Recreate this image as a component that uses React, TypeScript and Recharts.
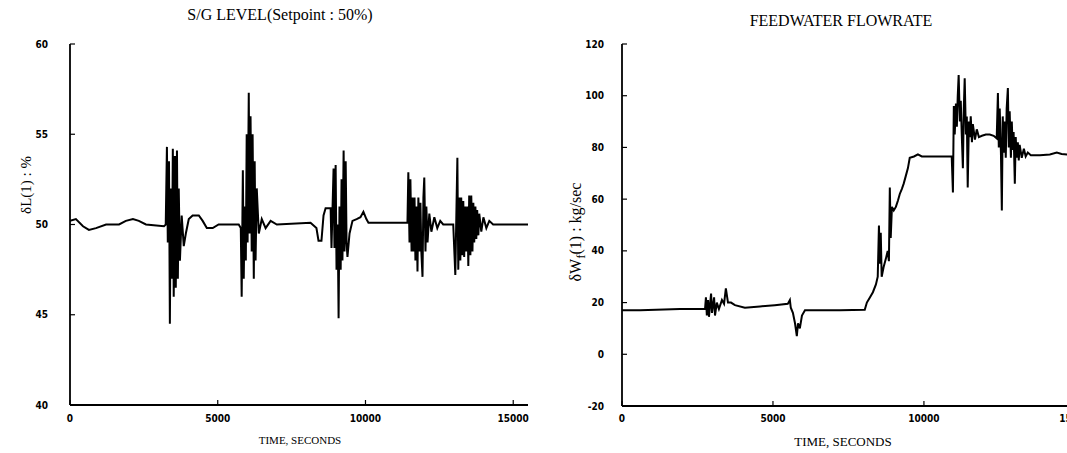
import React from "react";
import { LineChart, Line, XAxis, YAxis } from "recharts";

// ---- S/G level (left) ----
const levelTime = [
  0, 200, 440, 640, 880, 1220, 1660, 1890, 2130, 2330, 2570, 3180, 3240, 3280, 3310, 3350, 3380, 3410, 3450, 3480,
  3510, 3550, 3580, 3620, 3650, 3680, 3720, 3780, 3850, 3920, 4020, 4150, 4360, 4490, 4630, 4830, 5030, 5710, 5780,
  5810, 5850, 5880, 5910, 5950, 5980, 6010, 6050, 6080, 6110, 6150, 6180, 6220, 6250, 6280, 6320, 6390, 6490, 6620,
  6790, 7000, 8140, 8340, 8410, 8510, 8580, 8650, 8820, 8850, 8920, 8950, 8990, 9020, 9060, 9090, 9120, 9160, 9190,
  9220, 9260, 9290, 9330, 9360, 9390, 9460, 9560, 9700, 9830, 9930, 10030, 10100, 11420, 11450, 11490, 11520, 11560,
  11590, 11620, 11660, 11690, 11730, 11760, 11790, 11830, 11860, 11890, 11930, 11960, 11990, 12030, 12060, 12100,
  12160, 12230, 12330, 12430, 12530, 12630, 12970, 13040, 13080, 13110, 13140, 13180, 13210, 13240, 13280, 13310,
  13340, 13380, 13410, 13450, 13480, 13510, 13550, 13580, 13620, 13650, 13680, 13720, 13750, 13780, 13820, 13850,
  13920, 13990, 14090, 14190, 14320, 15500,
];
const levelValue = [
  50.2, 50.3, 49.9, 49.7, 49.8, 50.0, 50.0, 50.2, 50.3, 50.2, 50.0, 49.9, 50.0, 54.3, 49, 53.5, 44.5, 52, 47, 54.2,
  46, 53.8, 46.5, 54.1, 47, 52, 48, 50.5, 48.8, 49.5, 50.3, 50.5, 50.5, 50.2, 49.8, 49.8, 50.0, 50.0, 49.8,
  46, 53, 47, 51, 48, 55, 49, 57.3, 49.5, 56, 48.5, 55, 47, 53.5, 48, 52, 49.5, 50.3, 49.8,
  50.2, 50.0, 50.1, 49.8, 49.1, 49.1, 50.5, 50.9, 50.9, 48.7, 53.1, 48.7, 53.3, 47.5, 50, 44.8, 51, 47.5, 52.5,
  48, 54.1, 48.5, 53.5, 49, 48.2, 49.5, 50.2, 50.3, 50.4, 50.7, 50.3, 50.1, 50.1, 52.9, 49, 52.5, 48.5,
  51.5, 48.5, 51.5, 48, 51, 47.4, 51.5, 48.5, 51.2, 48.5, 47.1, 51.5, 52.6, 48.5, 51, 49,
  50.6, 49.6, 50.4, 49.8, 50.2, 50.0, 50.0, 47.2, 51, 53.7, 47.5, 51.5, 48, 51.5, 48.3, 51.3,
  48.2, 51, 48.5, 51, 47.7, 51.6, 48.3, 51.6, 48.5, 51.2, 49, 51, 49.2, 50.8, 49.4, 50.6,
  49.6, 50.4, 49.8, 50.2, 50.0, 50.0,
];
const levelTicks = [40, 45, 50, 55, 60];
const levelRightTicks = [45, 47.5, 50, 52.5, 55];

// ---- Feedwater flowrate (right) ----
const flowTime = [
  0, 600, 1920, 2580, 2750, 2780, 2810, 2850, 2880, 2950, 2980, 3050, 3080, 3140, 3210, 3310, 3380, 3440, 3510, 3610,
  3740, 4070, 4570, 5060, 5490, 5560, 5590, 5660, 5730, 5790, 5830, 5890, 5960, 6060, 6550, 7220, 8040, 8110, 8210,
  8310, 8410, 8470, 8510, 8540, 8570, 8600, 8670, 8740, 8800, 8840, 8870, 8900, 8940, 9000, 9070, 9140, 9200, 9270,
  9330, 9400, 9470, 9530, 9670, 9800, 9930, 10920, 10960, 10990, 11020, 11060, 11090, 11120, 11150, 11190, 11220,
  11250, 11290, 11320, 11350, 11390, 11420, 11450, 11490, 11520, 11550, 11590, 11620, 11690, 11750, 11820, 11920,
  12050, 12180, 12310, 12410, 12450, 12480, 12510, 12550, 12580, 12610, 12650, 12680, 12710, 12740, 12780, 12810,
  12840, 12880, 12910, 12940, 12970, 13010, 13040, 13070, 13110, 13140, 13170, 13240, 13310, 13370, 13440, 13540,
  13840, 14170, 14400, 14560, 15000, 15500,
];
const flowValue = [
  17, 17, 17.5, 17.5, 17.5, 22, 15, 21, 14.5, 23.5, 16, 22, 15, 20, 17.5, 21, 19.5, 25.5, 20, 20,
  19, 18, 18.5, 19, 19.5, 21, 18, 16, 12, 7, 12, 10, 15, 17, 17, 17, 17.2, 20, 22,
  24, 27, 30, 49.8, 35, 47, 30, 34, 37, 40, 36, 64.5, 45, 57, 55.6, 57, 59.5, 62, 64,
  66, 69, 72, 76, 76.5, 77.3, 76.5, 76.5, 62.6, 96, 85, 97, 88, 100, 108, 90, 98,
  86, 72, 95, 106.7, 85, 92, 64.5, 90, 84, 92, 82, 89, 83, 87, 84, 84.5,
  85, 85, 84.5, 83.5, 101, 80, 95, 78, 55.6, 92, 78, 90, 76, 95, 103, 80,
  94, 76, 90, 79, 86, 66, 84, 76, 82, 75, 81, 76, 79.5, 76.5, 78, 77,
  77, 77.3, 78, 77.5, 77, 77,
];
const flowTicks = [-20, 0, 20, 40, 60, 80, 100, 120];

const timeTicks = [0, 5000, 10000, 15000];
const timeInnerTicks = [5000, 10000];

const levelData = levelTime.map((t, i) => ({ t, v: levelValue[i] }));
const flowData = flowTime.map((t, i) => ({ t, v: flowValue[i] }));

const tickFont = {
  fontFamily: "'Liberation Sans Narrow', 'DejaVu Sans Condensed', sans-serif",
  fontWeight: 700,
  fontSize: 10,
  fill: "#000",
};
const serif = "'Liberation Serif', 'DejaVu Serif', serif";
const axisLine = { stroke: "#000", strokeWidth: 1.8 };
const tickLine = { stroke: "#000", strokeWidth: 1.2 };

export default function App() {
  return (
    <div style={{ position: "absolute", left: 0, top: 0, width: 1067, height: 453, overflow: "hidden", background: "#fff" }}>
      {/* Left chart: plot 70..528 x 44..405 */}
      <div style={{ position: "absolute", left: 0, top: 0 }}>
        <LineChart width={560} height={453} data={levelData} margin={{ top: 44, right: 32, bottom: 18, left: 30 }}>
          <XAxis
            xAxisId="b"
            dataKey="t"
            type="number"
            domain={[0, 15500]}
            ticks={timeTicks}
            allowDataOverflow
            height={30}
            axisLine={axisLine}
            tickLine={tickLine}
            tickSize={-5}
            tickMargin={15}
            tick={tickFont}
            interval={0}
          />
          <XAxis
            xAxisId="top"
            orientation="top"
            dataKey="t"
            type="number"
            domain={[0, 15500]}
            ticks={timeInnerTicks}
            allowDataOverflow
            height={0}
            axisLine={axisLine}
            tickLine={tickLine}
            tickSize={-5}
            tick={false}
          />
          <YAxis
            yAxisId="l"
            type="number"
            domain={[40, 60]}
            ticks={levelTicks}
            width={40}
            axisLine={axisLine}
            tickLine={tickLine}
            tickSize={-5}
            tickMargin={27}
            tick={tickFont}
            interval={0}
          />
          <YAxis
            yAxisId="r"
            orientation="right"
            type="number"
            domain={[40, 60]}
            ticks={levelRightTicks}
            width={0}
            axisLine={axisLine}
            tickLine={tickLine}
            tickSize={-5}
            tick={false}
          />
          <Line
            xAxisId="b"
            yAxisId="l"
            dataKey="v"
            type="linear"
            stroke="#000"
            strokeWidth={2}
            dot={false}
            isAnimationActive={false}
          />
        </LineChart>
      </div>

      {/* Right chart: plot 622..1090 x 44..406 */}
      <div style={{ position: "absolute", left: 560, top: 0 }}>
        <LineChart width={540} height={453} data={flowData} margin={{ top: 44, right: 10, bottom: 17, left: 22 }}>
          <XAxis
            xAxisId="b"
            dataKey="t"
            type="number"
            domain={[0, 15500]}
            ticks={timeTicks}
            allowDataOverflow
            height={30}
            axisLine={axisLine}
            tickLine={tickLine}
            tickSize={-5}
            tickMargin={14}
            tick={tickFont}
            interval={0}
          />
          <XAxis
            xAxisId="top"
            orientation="top"
            dataKey="t"
            type="number"
            domain={[0, 15500]}
            ticks={timeInnerTicks}
            allowDataOverflow
            height={0}
            axisLine={axisLine}
            tickLine={tickLine}
            tickSize={-5}
            tick={false}
          />
          <YAxis
            yAxisId="l"
            type="number"
            domain={[-20, 120]}
            ticks={flowTicks}
            width={40}
            axisLine={axisLine}
            tickLine={tickLine}
            tickSize={-5}
            tickMargin={23}
            tick={tickFont}
            interval={0}
          />
          <Line
            xAxisId="b"
            yAxisId="l"
            dataKey="v"
            type="linear"
            stroke="#000"
            strokeWidth={2}
            dot={false}
            isAnimationActive={false}
          />
        </LineChart>
      </div>

      {/* Titles and axis labels */}
      <svg width={1067} height={453} style={{ position: "absolute", left: 0, top: 0, pointerEvents: "none" }}>
        <text x={280} y={20} textAnchor="middle" fontFamily={serif} fontSize={16} fill="#000">
          S/G  LEVEL(Setpoint : 50%)
        </text>
        <text x={841} y={26} textAnchor="middle" fontFamily={serif} fontSize={16} fill="#000">
          FEEDWATER FLOWRATE
        </text>
        <text x={300} y={444} textAnchor="middle" fontFamily={serif} fontSize={11} fill="#000">
          TIME, SECONDS
        </text>
        <text x={843} y={446} textAnchor="middle" fontFamily={serif} fontSize={13} fill="#000">
          TIME, SECONDS
        </text>
        <text
          transform="translate(31,185) rotate(-90)"
          textAnchor="middle"
          fontFamily={serif}
          fontSize={15}
          fill="#000"
        >
          δL(1) : %
        </text>
        <text
          transform="translate(581,232) rotate(-90)"
          textAnchor="middle"
          fontFamily={serif}
          fontSize={16}
          fill="#000"
        >
          δW<tspan fontSize={13} dy={4}>f</tspan>
          <tspan dy={-4}>(1) : kg/sec</tspan>
        </text>
      </svg>
    </div>
  );
}
